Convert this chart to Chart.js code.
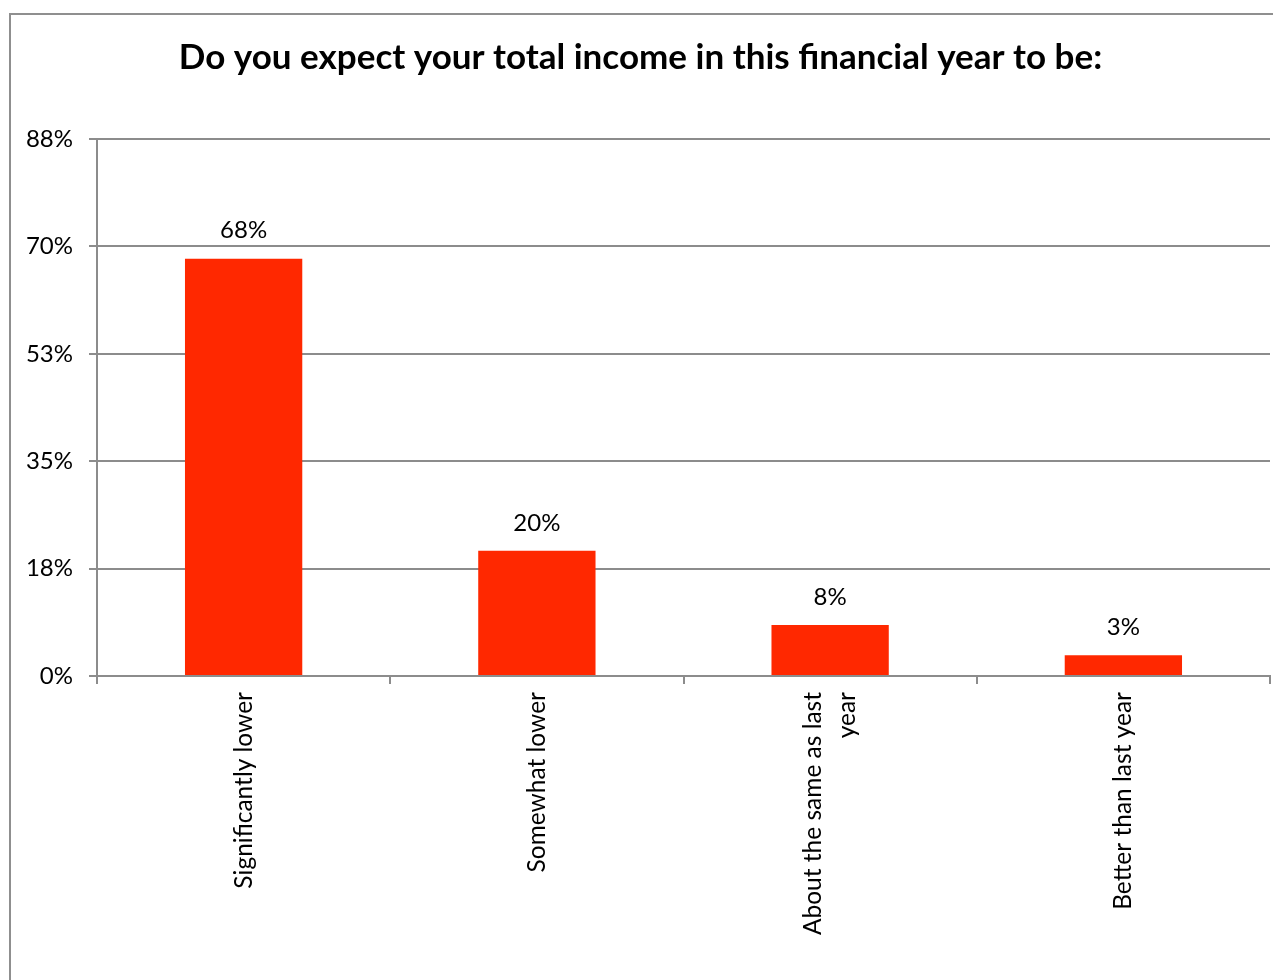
<!DOCTYPE html>
<html>
<head>
<meta charset="utf-8">
<script src="https://cdn.jsdelivr.net/npm/chart.js@4.4.1/dist/chart.umd.min.js"></script>
<style>
  html, body { margin: 0; padding: 0; background: #fff; overflow: hidden; }
  #frame {
    position: absolute; left: 9px; top: 13px;
    width: 1290px; height: 1000px;
    border: 2px solid #8f8f8f;
    box-sizing: border-box;
  }
  #wrap { position: absolute; left: 0; top: 0; width: 1273px; height: 995px; }
</style>
</head>
<body>
<div id="frame"><div id="wrap"><canvas id="incomeChart"></canvas></div></div>
<script>
// DATA
const categories = [
  "Significantly lower",
  "Somewhat lower",
  ["About the same as last", "year"],
  "Better than last year"
];
const shares = [68.0, 20.4, 8.3, 3.4];   // percent of respondents
const yTicks = [0, 17.5, 35, 52.5, 70, 87.5];

const FONT = "Lato, 'Open Sans', sans-serif";
const GRID = "#8c8c8c";

// draws the value above each bar
const valueLabels = {
  id: "valueLabels",
  afterDatasetsDraw(chart) {
    const ctx = chart.ctx;
    const meta = chart.getDatasetMeta(0);
    ctx.save();
    ctx.font = "24px " + FONT;
    ctx.fillStyle = "#000";
    ctx.textAlign = "center";
    ctx.textBaseline = "middle";
    meta.data.forEach((bar, i) => {
      ctx.fillText(Math.round(shares[i]) + "%", bar.x, bar.y - 28);
    });
    ctx.restore();
  }
};

// center wrapped (multi-line) rotated labels on their tick, like Excel does
function centerWrappedLabels(scale) {
  if (scale._centerPatched) return;
  const orig = scale._computeLabelItems;
  scale._computeLabelItems = function (area) {
    const items = orig.call(this, area);
    items.forEach((item) => {
      if (Array.isArray(item.label) && item.label.length > 1 && item.options && item.options.translation) {
        const lh = item.font.lineHeight;
        item.options.translation[0] -= lh * (item.label.length - 1) / 2;
      }
    });
    return items;
  };
  scale._centerPatched = true;
}

new Chart(document.querySelector("#incomeChart"), {
  type: "bar",
  data: {
    labels: categories,
    datasets: [{
      data: shares,
      backgroundColor: "#ff2800",
      borderWidth: 0,
      barPercentage: 0.4,
      categoryPercentage: 1.0
    }]
  },
  options: {
    responsive: true,
    maintainAspectRatio: false,
    animation: false,
    layout: { padding: { left: 0, right: 14, top: 0, bottom: 0 } },
    plugins: {
      legend: { display: false },
      tooltip: { enabled: false },
      title: {
        display: true,
        text: "Do you expect your total income in this financial year to be:",
        color: "#000",
        font: { family: FONT, size: 35, weight: "bold" },
        padding: { top: 22, bottom: 60 }
      }
    },
    scales: {
      x: {
        afterFit: (s) => { s.height = 334; centerWrappedLabels(s); },
        border: { display: true, color: GRID, width: 2 },
        grid: { drawOnChartArea: false, drawTicks: true, tickLength: 8, color: GRID, lineWidth: 2, offset: true },
        ticks: {
          autoSkip: false,
          minRotation: 90,
          maxRotation: 90,
          padding: 8,
          color: "#000",
          font: { family: FONT, size: 24.5, lineHeight: 1.35 }
        }
      },
      y: {
        min: 0,
        max: 87.5,
        afterFit: (s) => { s.width = 86; },
        afterBuildTicks: (s) => { s.ticks = yTicks.map(v => ({ value: v })); },
        border: { display: true, color: GRID, width: 2 },
        grid: { color: GRID, lineWidth: 2, tickLength: 8 },
        ticks: {
          padding: 16,
          color: "#000",
          font: { family: FONT, size: 24 },
          callback: (v) => Math.round(v) + "%"
        }
      }
    }
  },
  plugins: [valueLabels]
});
</script>
</body>
</html>
